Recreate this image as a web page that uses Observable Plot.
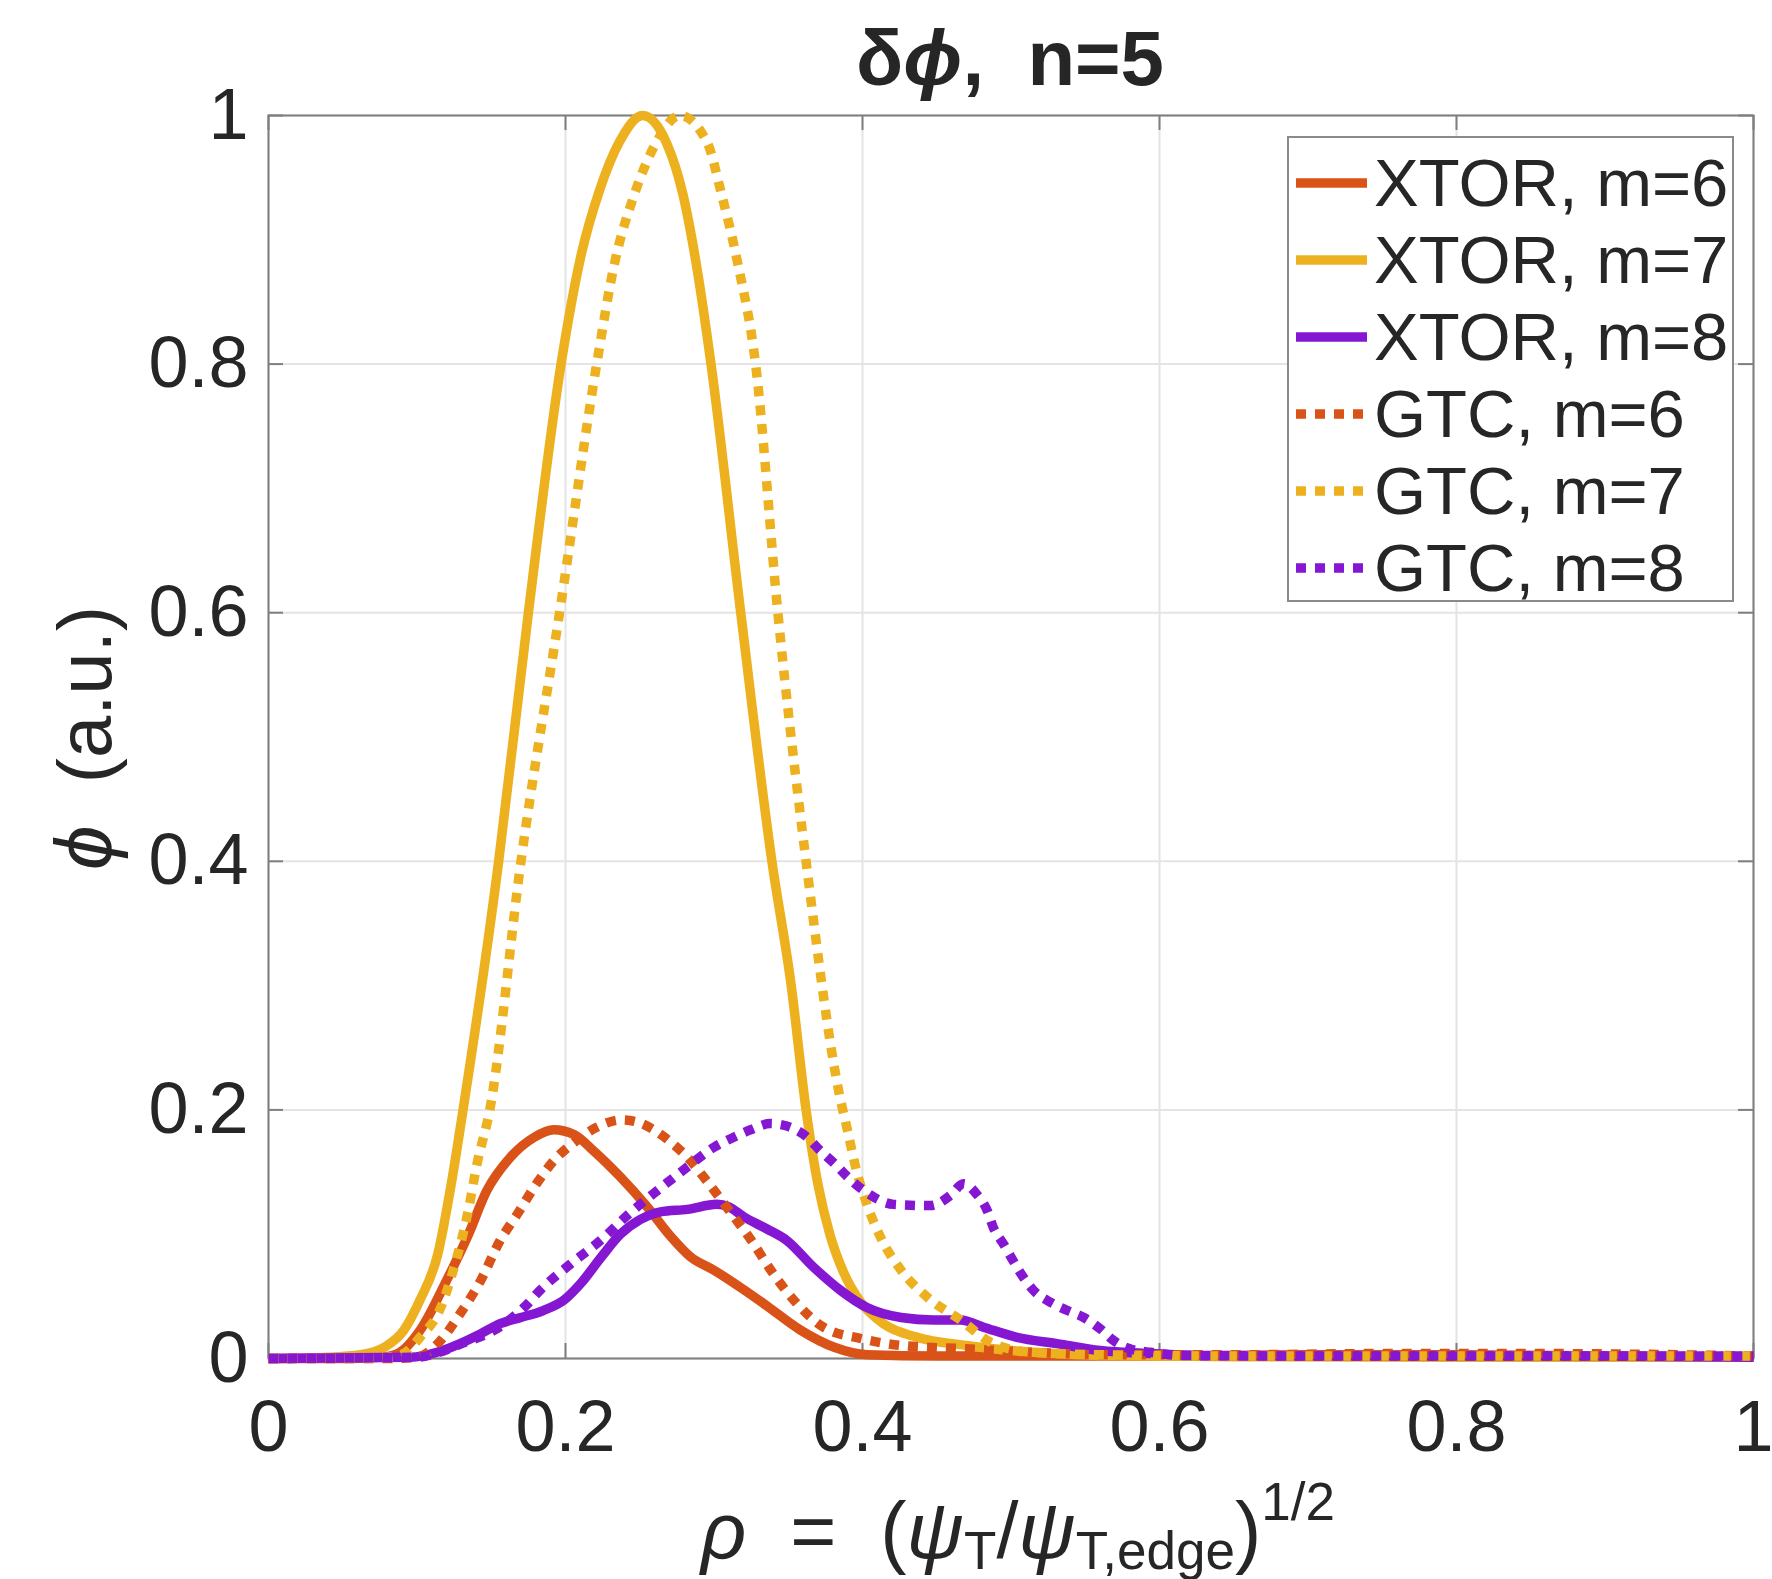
<!DOCTYPE html>
<html>
<head>
<meta charset="utf-8">
<script src="https://cdn.jsdelivr.net/npm/d3@7"></script>
<script src="https://cdn.jsdelivr.net/npm/@observablehq/plot@0.6"></script>
<style>
  body { margin: 0; background: #fff; }
  #fig { position: relative; width: 1772px; height: 1579px; overflow: hidden;
         font-family: "Liberation Sans", Arial, Helvetica, sans-serif; color: #262626; }
  #fig > svg { position: absolute; left: 0; top: 0; }
  .ov { position: absolute; white-space: pre; line-height: 1; }
  #title { left: 1010px; top: 58px; transform: translate(-50%, -50%); font-size: 78px; font-weight: bold; }
  #ylabel { left: 84px; top: 738px; transform: translate(-50%, -50%) rotate(-90deg); font-size: 76px; }
  #ylabel i { font-size: 80px; }
  #xlabel { left: 1018px; top: 1491px; transform: translateX(-50%); font-size: 79px; }
  #xlabel sub { font-size: 53px; vertical-align: -0.2em; line-height: 0; }
  #xlabel sup { font-size: 53px; vertical-align: 0.72em; line-height: 0; }
  #legend { position: absolute; left: 1287px; top: 136px; width: 447px; height: 466px; box-sizing: border-box;
            border: 2px solid #8a8a8a; background: #fff; padding-top: 6px; }
  .row { display: flex; align-items: center; height: 77px; font-size: 67px; white-space: pre; }
  .row svg { display: block; margin-left: 7px; margin-right: 7px; flex: none; }
</style>
</head>
<body>
<div id="fig"></div>
<script>
// ---- data ----
const xTicks = [0, 0.2, 0.4, 0.6, 0.8, 1];
const yTicks = [0, 0.2, 0.4, 0.6, 0.8, 1];

const seriesNames = ["XTOR, m=6", "XTOR, m=7", "XTOR, m=8", "GTC, m=6", "GTC, m=7", "GTC, m=8"];
const seriesColors = ["#D95319", "#EDB120", "#8517D3", "#D95319", "#EDB120", "#8517D3"];
const seriesDotted = [false, false, false, true, true, true];

const xtor6X = [0, 0.05, 0.075, 0.087, 0.102, 0.120, 0.134, 0.147, 0.163, 0.179, 0.192, 0.206, 0.219, 0.237, 0.255, 0.271, 0.284, 0.300, 0.318, 0.336, 0.358, 0.381, 0.403, 0.45, 0.5, 0.6, 0.7, 0.8, 0.9, 1.0];
const xtor6Y = [0, 0, 0.001, 0.004, 0.0225, 0.063, 0.098, 0.135, 0.162, 0.178, 0.184, 0.180, 0.167, 0.146, 0.122, 0.098, 0.082, 0.071, 0.057, 0.042, 0.023, 0.009, 0.003, 0.002, 0.002, 0.002, 0.003, 0.003, 0.002, 0.001];

const xtor7X = [0, 0.04, 0.062, 0.078, 0.091, 0.102, 0.114, 0.123, 0.131, 0.155, 0.175, 0.197, 0.210, 0.223, 0.236, 0.252, 0.268, 0.279, 0.288, 0.298, 0.318, 0.339, 0.352, 0.362, 0.370, 0.378, 0.387, 0.399, 0.414, 0.437, 0.47, 0.515, 0.56, 0.65, 0.8, 1.0];
const xtor7Y = [0, 0.001, 0.003, 0.009, 0.0225, 0.047, 0.084, 0.14, 0.2, 0.4, 0.6, 0.8, 0.885, 0.94, 0.978, 1.0, 0.978, 0.937, 0.881, 0.8, 0.6, 0.4, 0.3, 0.2, 0.14, 0.1, 0.07, 0.045, 0.028, 0.017, 0.0105, 0.005, 0.0025, 0.0015, 0.001, 0.001];

const xtor8X = [0, 0.0956, 0.1136, 0.129, 0.143, 0.156, 0.170, 0.185, 0.199, 0.210, 0.224, 0.237, 0.2505, 0.264, 0.282, 0.302, 0.310, 0.320, 0.336, 0.349, 0.367, 0.385, 0.403, 0.426, 0.448, 0.466, 0.482, 0.504, 0.531, 0.56, 0.594, 0.628, 0.7, 0.8, 0.9, 1.0];
const xtor8Y = [0, 0.001, 0.005, 0.012, 0.020, 0.028, 0.033, 0.0386, 0.047, 0.060, 0.0815, 0.100, 0.112, 0.118, 0.120, 0.124, 0.122, 0.114, 0.104, 0.095, 0.0735, 0.055, 0.041, 0.033, 0.031, 0.031, 0.025, 0.017, 0.012, 0.0064, 0.004, 0.0025, 0.002, 0.002, 0.002, 0.001];

const gtc6X = [0, 0.08, 0.100, 0.114, 0.129, 0.143, 0.156, 0.1675, 0.179, 0.192, 0.206, 0.221, 0.238, 0.249, 0.2595, 0.271, 0.282, 0.295, 0.309, 0.3246, 0.340, 0.356, 0.374, 0.399, 0.426, 0.47, 0.515, 0.56, 0.65, 0.75, 0.85, 0.95, 1.0];
const gtc6Y = [0, 0, 0.001, 0.012, 0.036, 0.063, 0.095, 0.116, 0.138, 0.159, 0.174, 0.186, 0.192, 0.190, 0.184, 0.174, 0.162, 0.143, 0.121, 0.096, 0.068, 0.044, 0.025, 0.016, 0.0105, 0.0078, 0.005, 0.003, 0.003, 0.004, 0.004, 0.003, 0.002];

const gtc7X = [0, 0.06, 0.08, 0.091, 0.102, 0.116, 0.125, 0.134, 0.1405, 0.149, 0.170, 0.196, 0.221, 0.233, 0.2465, 0.261, 0.277, 0.2955, 0.305, 0.316, 0.328, 0.343, 0.362, 0.384, 0.390, 0.396, 0.403, 0.412, 0.426, 0.444, 0.466, 0.488, 0.515, 0.56, 0.65, 0.8, 1.0];
const gtc7Y = [0, 0, 0.001, 0.004, 0.017, 0.041, 0.0735, 0.116, 0.157, 0.2, 0.4, 0.6, 0.8, 0.881, 0.937, 0.978, 1.0, 0.978, 0.937, 0.881, 0.8, 0.6, 0.4, 0.215, 0.183, 0.151, 0.124, 0.098, 0.071, 0.049, 0.031, 0.012, 0.005, 0.003, 0.002, 0.002, 0.002];

const gtc8X = [0, 0.100, 0.115, 0.13, 0.1517, 0.172, 0.183, 0.2034, 0.2236, 0.2415, 0.2617, 0.282, 0.300, 0.3133, 0.3246, 0.338, 0.349, 0.3627, 0.3717, 0.381, 0.390, 0.401, 0.421, 0.446, 0.459, 0.468, 0.477, 0.484, 0.488, 0.495, 0.502, 0.5085, 0.515, 0.527, 0.538, 0.549, 0.560, 0.569, 0.580, 0.594, 0.616, 0.7, 0.8, 0.9, 1.0];
const gtc8Y = [0, 0.001, 0.005, 0.012, 0.0225, 0.041, 0.055, 0.076, 0.095, 0.115, 0.135, 0.154, 0.170, 0.178, 0.184, 0.189, 0.187, 0.178, 0.167, 0.157, 0.146, 0.135, 0.124, 0.123, 0.131, 0.1405, 0.132, 0.119, 0.1056, 0.092, 0.0775, 0.065, 0.055, 0.045, 0.0386, 0.033, 0.024, 0.0145, 0.0078, 0.005, 0.0024, 0.002, 0.002, 0.002, 0.002];

const seriesX = [xtor6X, xtor7X, xtor8X, gtc6X, gtc7X, gtc8X];
const seriesY = [xtor6Y, xtor7Y, xtor8Y, gtc6Y, gtc7Y, gtc8Y];

// ---- styling ----
const W = 1772, H = 1579;
const M = {top: 115, bottom: 221, left: 268, right: 19};
const innerW = W - M.left - M.right, innerH = H - M.top - M.bottom;
const TICK = 15;
const LW = 9.5;
const DOTS = "10,9";
const AXIS = "#7f7f7f";
const GRID = "#e4e4e4";
const FONT = '"Liberation Sans", Arial, Helvetica, sans-serif';

const lineMarks = seriesNames.map((name, i) =>
  Plot.line(seriesX[i].map((x, j) => ({x, y: seriesY[i][j]})), {
    x: "x", y: "y", stroke: seriesColors[i], strokeWidth: LW,
    strokeDasharray: seriesDotted[i] ? DOTS : null,
    strokeLinecap: "butt", strokeLinejoin: "round", curve: "monotone-x"
  })
);

const fmt = d => String(d);

const chart = Plot.plot({
  width: W,
  height: H,
  marginTop: M.top,
  marginBottom: M.bottom,
  marginLeft: M.left,
  marginRight: M.right,
  style: {fontFamily: FONT, fontSize: "72px", color: "#262626", background: "transparent"},
  x: {domain: [0, 1], axis: null},
  y: {domain: [0, 1], axis: null},
  marks: [
    Plot.gridX(xTicks, {stroke: GRID, strokeOpacity: 1, strokeWidth: 2}),
    Plot.gridY(yTicks, {stroke: GRID, strokeOpacity: 1, strokeWidth: 2}),
    Plot.frame({stroke: AXIS, strokeWidth: 2}),
    // inward tick marks on all four sides
    Plot.ruleX(xTicks, {stroke: AXIS, strokeWidth: 2, insetTop: innerH - TICK}),
    Plot.ruleX(xTicks, {stroke: AXIS, strokeWidth: 2, insetBottom: innerH - TICK}),
    Plot.ruleY(yTicks, {stroke: AXIS, strokeWidth: 2, insetRight: innerW - TICK}),
    Plot.ruleY(yTicks, {stroke: AXIS, strokeWidth: 2, insetLeft: innerW - TICK}),
    // tick labels
    Plot.axisX(xTicks, {anchor: "bottom", tickSize: 0, tickPadding: 41, tickFormat: fmt, label: null, fill: "#262626", fontSize: 72}),
    Plot.axisY(yTicks, {anchor: "left", tickSize: 0, tickPadding: 20, tickFormat: fmt, label: null, fill: "#262626", fontSize: 72}),
    ...lineMarks
  ]
});

const fig = document.getElementById("fig");
fig.appendChild(chart);

// title and axis labels (text with math symbols)
const title = document.createElement("div");
title.className = "ov"; title.id = "title";
title.innerHTML = 'δ<i>ϕ</i>,  n=5';
fig.appendChild(title);

const ylab = document.createElement("div");
ylab.className = "ov"; ylab.id = "ylabel";
ylab.innerHTML = '<i>ϕ</i>  (a.u.)';
fig.appendChild(ylab);

const xlab = document.createElement("div");
xlab.className = "ov"; xlab.id = "xlabel";
xlab.innerHTML = '<i>ρ</i>  =  (<i>ψ</i><sub>T</sub>/<i>ψ</i><sub>T,edge</sub>)<sup>1/2</sup>';
fig.appendChild(xlab);

// legend
const legend = document.createElement("div");
legend.id = "legend";
seriesNames.forEach((name, i) => {
  const row = document.createElement("div");
  row.className = "row";
  const ns = "http://www.w3.org/2000/svg";
  const sw = document.createElementNS(ns, "svg");
  sw.setAttribute("width", 71); sw.setAttribute("height", 20);
  const ln = document.createElementNS(ns, "line");
  ln.setAttribute("x1", 0); ln.setAttribute("x2", 71);
  ln.setAttribute("y1", 10); ln.setAttribute("y2", 10);
  ln.setAttribute("stroke", seriesColors[i]);
  ln.setAttribute("stroke-width", LW);
  if (seriesDotted[i]) ln.setAttribute("stroke-dasharray", DOTS);
  sw.appendChild(ln);
  row.appendChild(sw);
  const t = document.createElement("span");
  t.textContent = name;
  row.appendChild(t);
  legend.appendChild(row);
});
fig.appendChild(legend);
</script>
</body>
</html>
